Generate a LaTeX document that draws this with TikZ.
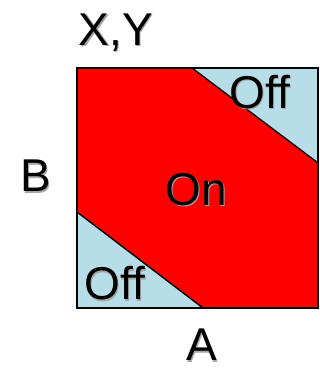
\documentclass[tikz,border=0pt]{standalone}
\usepackage{fontspec}
\setmainfont{Liberation Sans}
\usepackage{tikz}
\usetikzlibrary{positioning,calc}
\definecolor{oncolor}{HTML}{FF0000}
\definecolor{offcolor}{HTML}{B7DEE8}
\newcommand{\MapFont}{\fontsize{46pt}{50pt}\selectfont}
% soft drop shadow under each label
\newcommand{\ShadowText}[1]{\makebox[0pt][l]{\hspace{1.2pt}\raisebox{-1.2pt}{\textcolor{black!35}{#1}}}#1}

\begin{document}
\begin{tikzpicture}[x=1pt,y=1pt]
    \tikzset{
        map border/.style={draw=black, line width=2pt},
        map cut/.style={draw=black, line width=1.4pt, fill=offcolor},
        map label/.style={font=\MapFont, anchor=base, inner sep=0pt, text=black}
    }
    \useasboundingbox (0,0) rectangle (320,368);
    % the map itself
    \coordinate (sw) at (77,60);
    \coordinate (ne) at (318,300);
    \fill[oncolor] (sw) rectangle (ne);
    \path[map cut] (192,300) -- (318,300) -- (318,205) -- cycle;
    \path[map cut] (77,156) -- (77,60) -- (203,60) -- cycle;
    \draw[map border] (sw) rectangle (ne);
    % labels
    \node[map label] (xy) at (116,323) {\ShadowText{X,Y}};
    \node[map label] (b) at (36,176) {\ShadowText{B}};
    \node[map label] (a) at (202,7) {\ShadowText{A}};
    \node[map label] (on) at (196,163) {\ShadowText{On}};
    \node[map label] (off-top) at (260,260) {\ShadowText{Off}};
    \node[map label] (off-bottom) at (115,68) {\ShadowText{Off}};
\end{tikzpicture}
\end{document}
